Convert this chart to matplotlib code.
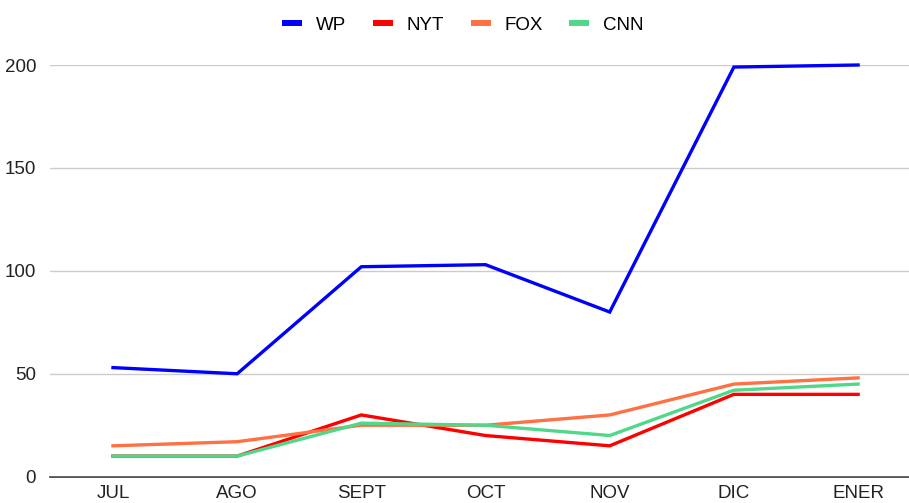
import matplotlib.pyplot as plt
from matplotlib.lines import Line2D

plt.rcParams['font.family'] = ['Liberation Sans', 'DejaVu Sans']

meses = ['JUL', 'AGO', 'SEPT', 'OCT', 'NOV', 'DIC', 'ENER']
wp = [53, 50, 102, 103, 80, 199, 200]
nyt = [10, 10, 30, 20, 15, 40, 40]
fox = [15, 17, 25, 25, 30, 45, 48]
cnn = [10, 10, 26, 25, 20, 42, 45]

series = [('WP', wp, '#0000ff'),
          ('NYT', nyt, '#ff0000'),
          ('FOX', fox, '#ff7043'),
          ('CNN', cnn, '#4fd88a')]

fig = plt.figure(figsize=(9.09, 5.03), dpi=100)
ax = fig.add_axes([50 / 909, 26.3 / 503, 859 / 909, 411.7 / 503])

x = list(range(len(meses)))
for name, vals, col in series:
    ax.plot(x, vals, color=col, lw=2.4, clip_on=False, solid_joinstyle='miter')

ax.set_xlim(-0.507, 6.41)
ax.set_ylim(0, 200)
ax.set_yticks([0, 50, 100, 150, 200])
ax.set_xticks(x)
ax.set_xticklabels(meses)
ax.tick_params(length=0, labelsize=13.5, colors='#222222', pad=6)
ax.tick_params(axis='y', pad=10)
ax.grid(axis='y', color='#cccccc', lw=1)
ax.set_axisbelow(True)
for s in ['top', 'right', 'left']:
    ax.spines[s].set_visible(False)
ax.spines['bottom'].set_color('#333333')
ax.spines['bottom'].set_linewidth(1.2)
ax.spines['bottom'].set_zorder(0.5)

handles = [Line2D([], [], color=c, lw=4.3, solid_capstyle='butt') for _, _, c in series]
fig.legend(handles, [n for n, _, _ in series], loc='center', bbox_to_anchor=(463 / 909, 1 - 25 / 503),
           ncol=4, frameon=False, fontsize=13.5, handlelength=1.07, handletextpad=0.75, columnspacing=1.4)

fig.savefig('out.png', dpi=100)
